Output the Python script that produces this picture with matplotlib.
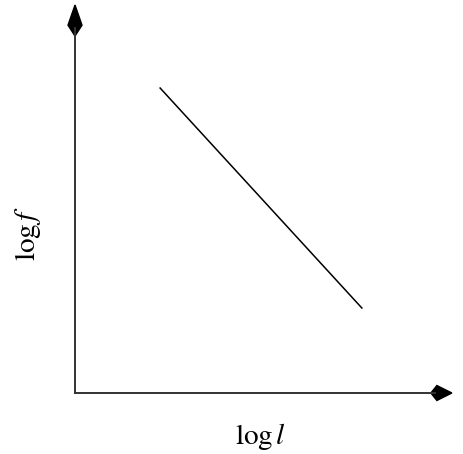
import matplotlib
matplotlib.use('Agg')
import matplotlib.pyplot as plt
from matplotlib.patches import Polygon

plt.rcParams['mathtext.fontset'] = 'stix'
plt.rcParams['font.family'] = 'Liberation Serif'

# schematic power law: log f falls linearly with log l
log_l = [0.227, 0.765]
log_f = [0.786, 0.219]
x_label = r'$\log l$'
y_label = r'$\log f$'

W, H = 463, 454
fig = plt.figure(figsize=(W / 100, H / 100), dpi=100)
# origin of the axes at pixel (75, 393), ends at x=450, y=5
ax = fig.add_axes([75 / W, (H - 393) / H, 375 / W, 388 / H])
ax.set_xlim(0, 1)
ax.set_ylim(0, 1)
ax.axis('off')

ax.plot(log_l, log_f, color='black', lw=1.1)

# axis lines
ax.plot([0, 0.96], [0, 0], color='#333333', lw=1.4, clip_on=False)
ax.plot([0, 0], [0, 0.94], color='#333333', lw=1.4, clip_on=False)

# kite shaped arrow heads
up = Polygon([(0, 1.0), (-0.0187, 0.948), (0, 0.92), (0.0187, 0.948)],
             closed=True, color='black', clip_on=False)
right = Polygon([(1.005, 0), (0.965, 0.0193), (0.949, 0), (0.965, -0.0193)],
                closed=True, color='black', clip_on=False)
ax.add_patch(up)
ax.add_patch(right)

fig.text(260 / W, 1 - 436 / H, x_label, fontsize=21, ha='center', va='center')
fig.text(28 / W, 1 - 233 / H, y_label, fontsize=21, ha='center', va='center',
         rotation=90)

fig.savefig('out.png', dpi=100)
